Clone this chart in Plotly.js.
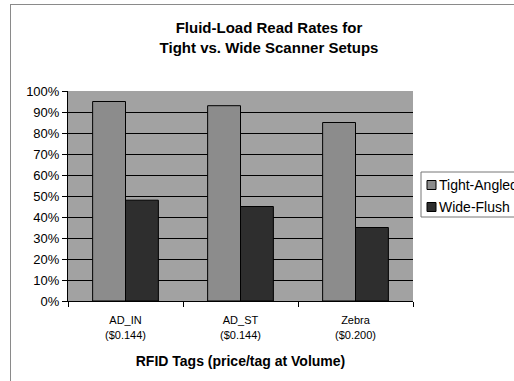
<!DOCTYPE html>
<html>
<head>
<meta charset="utf-8">
<script src="https://cdn.plot.ly/plotly-3.0.1.min.js"></script>
<style>
  html, body { margin: 0; padding: 0; background: #ffffff; overflow: hidden; }
  #wrap { position: relative; width: 514px; height: 381px; overflow: hidden; }
  #frame { position: absolute; left: 10px; top: 4px; width: 700px; height: 600px;
           border: 1px solid #8a8a8a; box-sizing: border-box; }
  #chart { position: absolute; left: 0; top: 0; width: 514px; height: 381px; }
</style>
</head>
<body>
<div id="wrap">
  <div id="frame"></div>
  <div id="chart"></div>
</div>
<script>
// RFID tag read rates under two scanner arrangements
const tags = ["AD_IN", "AD_ST", "Zebra"];
const prices = ["($0.144)", "($0.144)", "($0.200)"];
const seriesNames = ["Tight-Angled", "Wide-Flush"];
const tightAngled = [0.95, 0.93, 0.85];
const wideFlush = [0.48, 0.45, 0.35];
const seriesColors = ["#8c8c8c", "#2e2e2e"];

const categories = tags.map((t, i) => t + "<br>" + prices[i]);

const W = 514, H = 381;
const margin = { l: 68, r: 101, t: 91, b: 80 };
const plotW = W - margin.l - margin.r;
const plotH = H - margin.t - margin.b;
// pixel -> paper helpers for the hand-built legend
const px = x => (x - margin.l) / plotW;
const py = y => (H - margin.b - y) / plotH;

const font = "Liberation Sans, Arial, Helvetica, sans-serif";

const traces = [tightAngled, wideFlush].map((vals, i) => ({
  type: "bar",
  name: seriesNames[i],
  x: categories,
  y: vals,
  marker: { color: seriesColors[i], line: { color: "#000000", width: 1 } },
  hoverinfo: "skip",
  showlegend: false
}));

// legend box with swatches
const shapes = [{
  type: "rect", xref: "paper", yref: "paper",
  x0: px(421), x1: px(560), y0: py(217), y1: py(172),
  line: { color: "#777777", width: 1 }, fillcolor: "#ffffff", layer: "above"
}];
const annotations = [];
const rowY = [185, 207];
seriesNames.forEach((name, i) => {
  shapes.push({
    type: "rect", xref: "paper", yref: "paper",
    x0: px(427), x1: px(436), y0: py(rowY[i] + 4.5), y1: py(rowY[i] - 4.5),
    line: { color: "#000000", width: 1 }, fillcolor: seriesColors[i], layer: "above"
  });
  annotations.push({
    xref: "paper", yref: "paper", x: px(437), y: py(rowY[i]),
    xanchor: "left", yanchor: "middle", showarrow: false,
    text: name, font: { family: font, size: 14, color: "#000000" }
  });
});

const layout = {
  width: W, height: H,
  margin: margin,
  paper_bgcolor: "rgba(0,0,0,0)",
  plot_bgcolor: "#a2a2a2",
  bargap: 1.5 / 3.5,
  bargroupgap: 0,
  barmode: "group",
  showlegend: false,
  title: {
    text: "<b>Fluid-Load Read Rates for<br>Tight vs. Wide Scanner Setups</b>",
    font: { family: font, size: 15, color: "#000000" },
    xref: "container", x: 269 / W, xanchor: "center",
    yref: "container", y: 1 - 33 / H, yanchor: "middle"
  },
  xaxis: {
    type: "category",
    tickson: "boundaries",
    ticks: "outside", ticklen: 5, tickcolor: "#000000", tickwidth: 1,
    ticklabelstandoff: 9,
    showline: true, linecolor: "#000000", linewidth: 1,
    showgrid: false,
    tickfont: { family: font, size: 11, color: "#000000" },
    title: {
      text: "<b>RFID Tags (price/tag at Volume)</b>",
      font: { family: font, size: 14, color: "#000000" },
      standoff: 16
    }
  },
  yaxis: {
    range: [0, 1],
    dtick: 0.1,
    tickformat: ".0%",
    ticks: "outside", ticklen: 5, tickcolor: "#000000", tickwidth: 1,
    showline: true, linecolor: "#000000", linewidth: 1,
    showgrid: true, gridcolor: "#000000", gridwidth: 1,
    zeroline: false,
    tickfont: { family: font, size: 13, color: "#000000" }
  },
  shapes: shapes,
  annotations: annotations
};

Plotly.newPlot("chart", traces, layout, { staticPlot: true, displayModeBar: false });
</script>
</body>
</html>
